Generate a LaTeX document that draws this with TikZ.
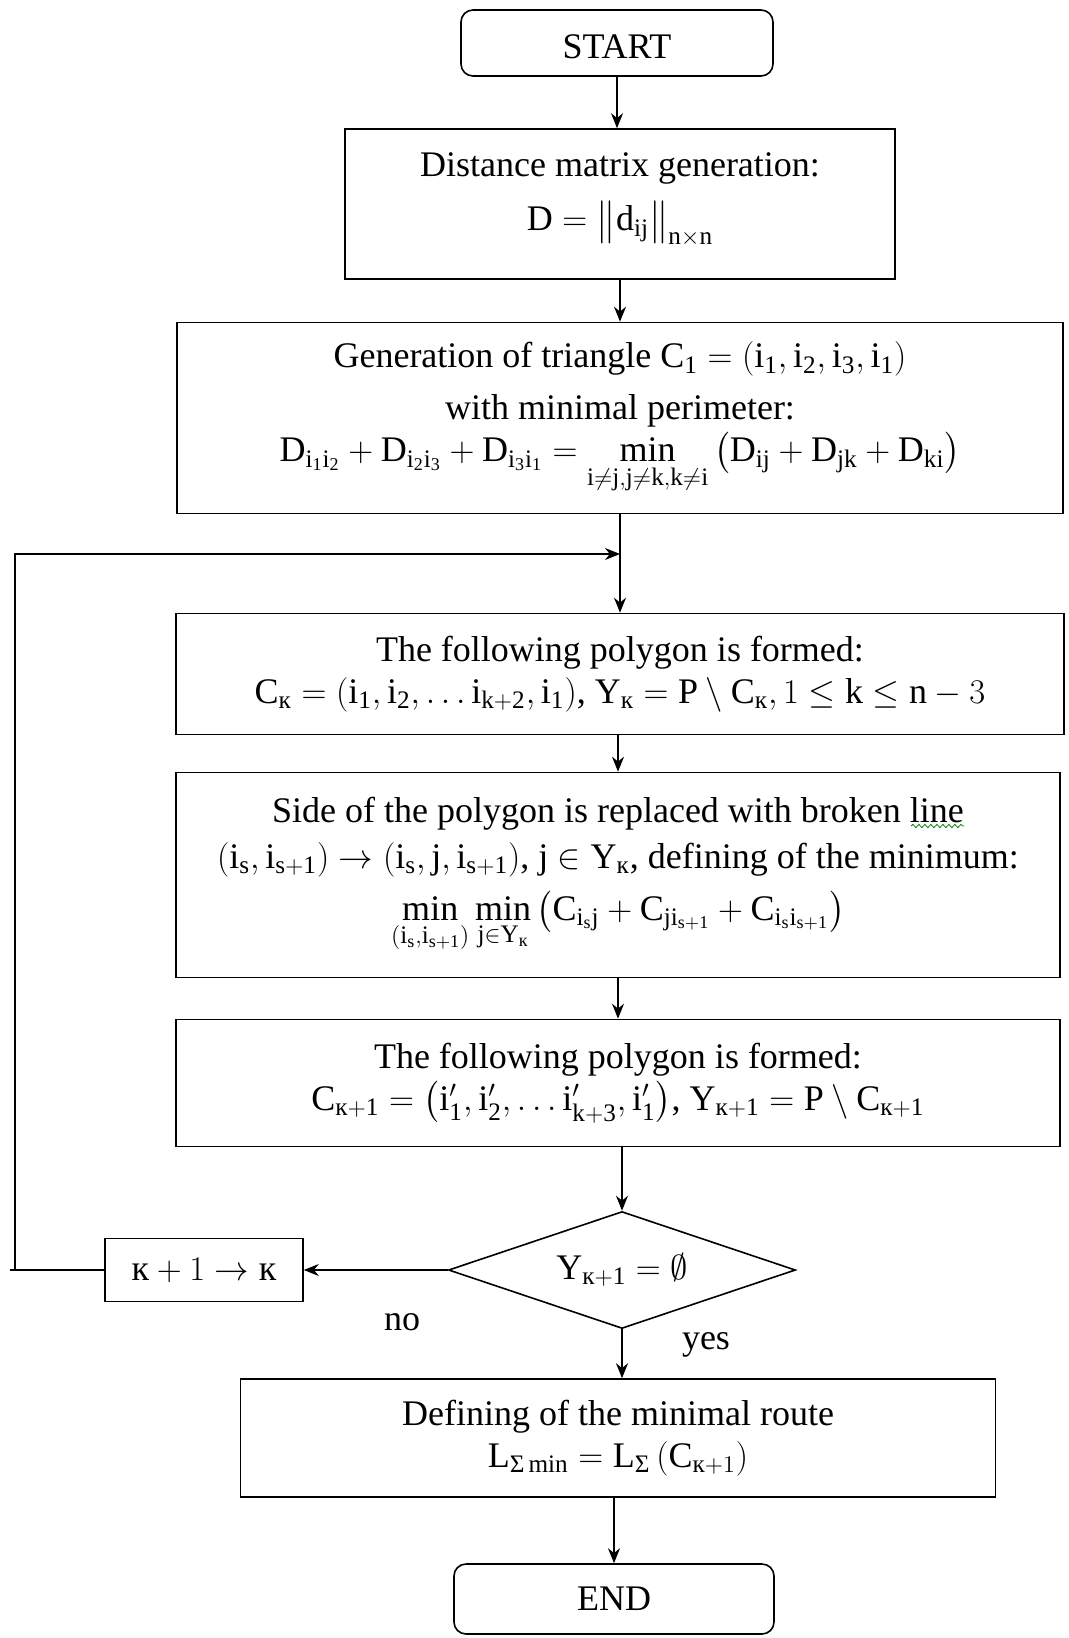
\documentclass[tikz,border=0pt]{standalone}
\usepackage{amsmath}
\usepackage{fontspec}
\setmainfont{Liberation Serif}
\usepackage{tikz}
\usetikzlibrary{shapes.geometric,arrows.meta,decorations.pathmorphing}

\newcommand{\kk}{\text{к}}
\newcommand{\sg}{\text{Σ}}

\begin{document}
\begin{tikzpicture}[x=0.5pt,y=-0.5pt,>={Stealth[length=7.5pt,width=6pt]},
    font=\fontsize{18}{21}\selectfont,
    block/.style={draw, line width=0.8pt, rectangle, align=center, inner sep=0pt},
    term/.style={block, rounded corners=6pt},
    decision/.style={draw, line width=0.8pt, diamond, aspect=2.97, inner sep=0pt},
    flow/.style={line width=0.7pt}]

      \useasboundingbox (0,0) rectangle (1069,1638);

      % start and first steps
      \node[term, minimum width=156pt, minimum height=33pt] (start) at (617,43) {\rule{0pt}{16pt}START};
      \node[block, minimum width=275pt, minimum height=75pt] (dist) at (620,204)
        {Distance matrix generation:\\[6pt] $\mathrm{D=\left\|d_{ij}\right\|_{n\times n}}$\rule[-12pt]{0pt}{0pt}};
      \node[block, minimum width=443pt, minimum height=95.5pt] (gen) at (620,418)
        {Generation of triangle $\mathrm{C_1=\left(i_1,i_2,i_3,i_1\right)}$\\[5pt]
         with minimal perimeter:\\
         $\mathrm{D_{i_1i_2}+D_{i_2i_3}+D_{i_3i_1}=\min\limits_{i\ne j,j\ne k,k\ne i}\left(D_{ij}+D_{jk}+D_{ki}\right)}$};

      % loop body
      \coordinate (loopin) at (620,554);
      \node[block, minimum width=444pt, minimum height=60.5pt] (poly) at (620,674)
        {The following polygon is formed:\\
         $\mathrm{C_{\kk}=\left(i_1,i_2,\ldots i_{k+2},i_1\right)}$,\ $\mathrm{Y_{\kk}=P\setminus C_{\kk}},1\le \mathrm{k}\le \mathrm{n}-3$};
      \node[block, minimum width=442pt, minimum height=102.5pt] (side) at (618,875)
        {Side of the polygon is replaced with broken line\\[2pt]
         $\mathrm{\left(i_s,i_{s+1}\right)\to\left(i_s,j,i_{s+1}\right)}$, $\mathrm{j\in Y_{\kk}}$, defining of the minimum:\\[5pt]
         $\mathrm{\min\limits_{\left(i_s,i_{s+1}\right)}\min\limits_{j\in Y_{\kk}}\left(C_{i_sj}+C_{ji_{s+1}}+C_{i_si_{s+1}}\right)}$};
      \node[block, minimum width=442pt, minimum height=63.5pt] (poly2) at (618,1083)
        {The following polygon is formed:\\
         $\mathrm{C_{\kk+1}=\left(i'_1,i'_2,\ldots i'_{k+3},i'_1\right)}$, $\mathrm{Y_{\kk+1}=P\setminus C_{\kk+1}}$};

      % check
      \node[decision, minimum width=173.5pt, minimum height=58.5pt] (test) at (622,1270)
        {$\mathrm{Y_{\kk+1}=\emptyset}$};
      \node[block, minimum width=99pt, minimum height=31.5pt] (incr) at (204,1270)
        {$\kk+1\to\kk$};
      \node (no) at (402,1322) {no};
      \node (yes) at (706,1345) {yes};

      % end
      \node[block, minimum width=377.5pt, minimum height=59pt] (final) at (618,1438)
        {Defining of the minimal route\\
         $\mathrm{L}_{\sg\,\mathrm{min}}=\mathrm{L}_{\sg}\left(\mathrm{C}_{\kk+1}\right)$};
      \node[term, minimum width=160pt, minimum height=35pt] (end) at (614,1599) {END};

      % spell check mark
      \draw[green!50!black, line width=0.4pt, decorate,
        decoration={snake, amplitude=0.8pt, segment length=3pt}] (911,826) -- (964,826);

      % arrows
      \draw[flow,->] (start) -- (start |- dist.north);
      \draw[flow,->] (dist) -- (gen);
      \draw[flow,->] (gen) -- (poly);
      \draw[flow,->] (poly.south -| side) -- (side);
      \draw[flow,->] (side) -- (poly2);
      \draw[flow,->] (poly2.south -| test) -- (test);
      \draw[flow,->] (test) -- (test |- final.north);
      \draw[flow,->] (final.south -| end) -- (end);
      \draw[flow,->] (test) -- (incr);

      % back to the loop
      \coordinate (lft) at (15,1270);
      \draw[flow] (incr.west) -- (10,1270);
      \draw[flow,->] (lft) |- (loopin);
    \end{tikzpicture}
\end{document}
